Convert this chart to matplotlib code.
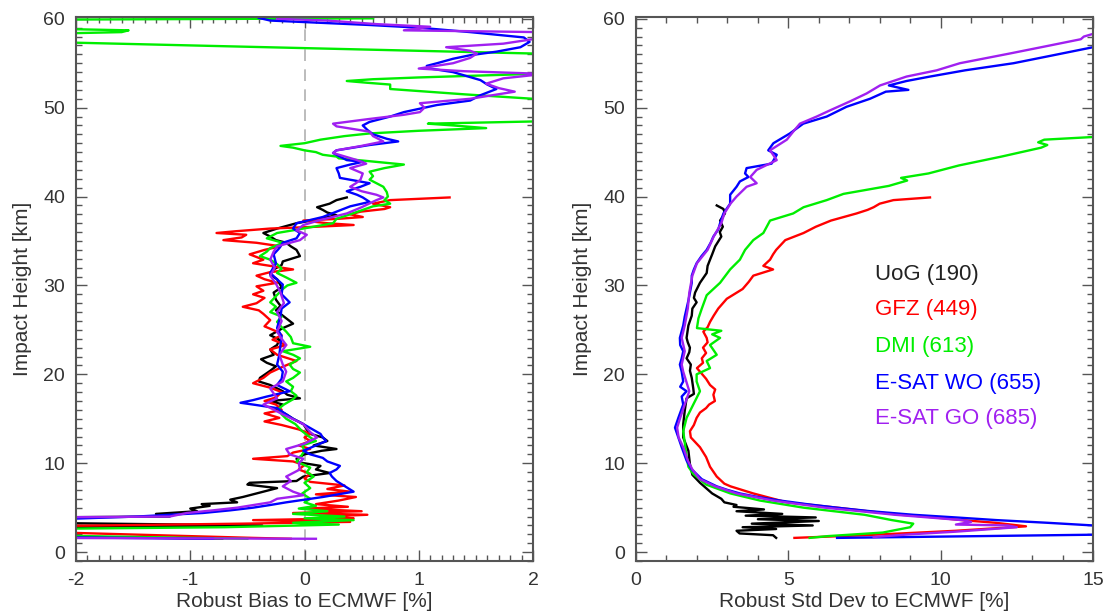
import matplotlib
matplotlib.use("Agg")
import matplotlib.pyplot as plt
from matplotlib.ticker import MultipleLocator

# ---------------- data: left panel (robust bias, %) ----------------
bias_uog_h = [1.5, 1.8, 2.8, 3.0, 3.3, 3.9, 4.0, 4.3, 4.6, 4.9, 5.2, 5.4, 5.6, 5.9, 6.2, 6.6, 7.0, 7.2, 7.6, 7.8,
              8.0, 8.5, 8.9, 9.3, 9.7, 10.1, 10.5, 11.0, 11.4, 11.6, 12.0, 12.5, 12.9, 13.3, 13.8, 14.4, 15.0, 15.5,
              16.1, 16.6, 17.0, 17.3, 17.7, 18.1, 18.8, 19.2, 19.6, 20.4, 20.9, 21.3, 21.7, 22.2, 22.8, 23.3, 23.9,
              24.4, 25.2, 25.7, 26.2, 26.6, 27.2, 27.7, 28.4, 29.2, 29.8, 30.7, 31.2, 31.8, 32.3, 32.7, 33.3, 34.0,
              34.4, 34.8, 35.1, 35.5, 35.9, 36.4, 37.0, 37.5, 37.9, 38.2, 38.5, 38.8, 39.2, 39.6, 39.9]
bias_uog_v = [-0.72, -2.4, -2.4, -0.37, -2.4, -2.4, -1.18, -1.3, -0.94, -1.0, -0.83, -0.9, -0.59, -0.65, -0.54,
              -0.42, -0.3, -0.24, -0.5, -0.48, -0.07, -0.01, 0.22, 0.1, 0.14, -0.05, -0.07, 0.0, 0.15, 0.28, 0.08,
              0.2, 0.16, 0.05, 0.02, -0.01, -0.1, -0.16, -0.25, -0.19, -0.3, -0.04, -0.15, -0.19, -0.3, -0.4, -0.39,
              -0.3, -0.25, -0.33, -0.38, -0.27, -0.3, -0.24, -0.22, -0.3, -0.19, -0.1, -0.15, -0.19, -0.25, -0.21,
              -0.25, -0.27, -0.2, -0.24, -0.3, -0.27, -0.2, -0.19, -0.04, -0.07, -0.12, -0.16, -0.25, -0.3, -0.36,
              -0.24, -0.07, 0.14, 0.28, 0.2, 0.16, 0.11, 0.22, 0.28, 0.37]

bias_gfz_h = [1.5, 1.6, 2.3, 2.9, 3.2, 3.4, 3.6, 3.8, 4.0, 4.2, 4.4, 4.6, 4.9, 5.1, 5.4, 5.8, 6.2, 6.5, 6.8, 7.1,
              7.5, 7.9, 8.3, 8.8, 9.3, 9.8, 10.2, 10.5, 10.8, 11.2, 11.6, 12.0, 12.5, 12.9, 13.3, 13.8, 14.3, 14.7,
              15.1, 15.6, 16.0, 16.6, 17.0, 17.4, 18.0, 18.5, 19.0, 19.6, 20.2, 20.8, 21.5, 22.2, 22.8, 23.3, 23.9,
              24.4, 24.8, 25.4, 26.1, 26.8, 27.2, 27.6, 28.0, 28.6, 29.0, 29.4, 29.9, 30.3, 30.7, 31.1, 31.5, 31.8,
              32.2, 32.5, 32.9, 33.5, 34.0, 34.4, 34.8, 35.1, 35.4, 35.7, 35.9, 36.1, 36.4, 36.6, 36.8, 37.0, 37.3,
              37.5, 37.7, 38.0, 38.3, 38.6, 38.8, 39.2, 39.6, 39.9]
bias_gfz_v = [-0.12, -0.45, -2.4, -2.4, -0.55, 0.4, -0.45, 0.43, 0.15, 0.55, -0.1, 0.5, 0.0, 0.38, 0.1, 0.3, 0.45,
              0.1, 0.4, 0.2, 0.35, 0.05, 0.0, 0.05, -0.05, 0.0, -0.1, -0.45, -0.15, -0.1, 0.05, -0.05, 0.05, 0.0,
              0.05, -0.05, -0.2, -0.35, -0.22, -0.35, -0.2, -0.25, -0.35, -0.25, -0.2, -0.3, -0.45, -0.36, -0.3,
              -0.2, -0.07, -0.24, -0.3, -0.16, -0.28, -0.2, -0.24, -0.35, -0.3, -0.36, -0.4, -0.54, -0.42, -0.35,
              -0.45, -0.36, -0.42, -0.24, -0.35, -0.42, -0.3, -0.1, -0.3, -0.45, -0.36, -0.48, -0.35, -0.21, -0.42,
              -0.71, -0.55, -0.51, -0.77, -0.6, -0.3, 0.1, 0.43, 0.2, -0.01, 0.3, 0.51, 0.4, 0.49, 0.7, 0.75, 0.6,
              0.75, 1.27]

bias_dmi_h = [1.5, 1.9, 2.6, 2.8, 3.1, 3.3, 3.6, 3.8, 4.0, 4.3, 4.6, 4.9, 5.2, 5.6, 6.0, 6.6, 7.2, 7.8, 8.5, 9.0,
              9.5, 10.2, 10.8, 11.4, 12.0, 12.5, 12.9, 13.6, 14.4, 15.0, 15.5, 16.2, 16.6, 17.2, 17.6, 18.1, 18.6,
              19.2, 19.6, 20.2, 20.6, 21.1, 21.8, 22.2, 22.6, 23.1, 23.5, 24.2, 24.8, 25.3, 25.9, 26.5, 27.0, 27.6,
              28.1, 28.8, 29.6, 30.0, 30.3, 30.9, 31.4, 31.9, 32.4, 32.9, 33.3, 33.8, 34.2, 34.8, 35.3, 35.9, 36.4,
              37.0, 37.5, 38.0, 38.5, 38.9, 39.2, 39.6, 40.0, 40.5, 41.1, 41.5, 41.9, 42.3, 42.8, 43.2, 43.6, 44.0,
              44.3, 44.5, 44.7, 45.0, 45.2, 45.5, 45.7, 46.0, 46.4, 46.8, 47.1, 47.4, 47.7, 48.0, 48.2, 48.5, 50.9,
              51.0, 51.5, 52.1, 52.6, 52.8, 53.0, 53.2, 53.4, 53.8, 54.0, 56.0, 57.4, 58.3, 58.5, 58.7, 58.9, 59.9,
              60.05]
bias_dmi_v = [-0.5, -2.4, -2.4, -0.7, 0.3, -0.1, 0.43, 0.0, 0.35, -0.1, 0.2, -0.05, 0.1, 0.0, 0.05, -0.02, 0.05,
              0.0, 0.08, 0.02, 0.05, -0.07, -0.03, 0.0, -0.02, 0.1, 0.05, -0.02, -0.08, -0.16, -0.2, -0.22, -0.18,
              -0.1, -0.07, -0.12, -0.1, -0.16, -0.1, -0.04, -0.1, -0.13, -0.04, -0.1, -0.19, 0.05, -0.1, -0.12,
              -0.16, -0.2, -0.24, -0.2, -0.3, -0.25, -0.3, -0.25, -0.19, -0.15, -0.07, -0.16, -0.24, -0.2, -0.24,
              -0.3, -0.39, -0.33, -0.3, -0.19, -0.33, -0.24, -0.01, 0.25, 0.28, 0.4, 0.51, 0.6, 0.75, 0.7, 0.73,
              0.72, 0.69, 0.63, 0.57, 0.6, 0.57, 0.7, 0.87, 0.55, 0.3, 0.28, 0.16, 0.1, 0.0, -0.1, -0.21, 0.0, 0.14,
              0.35, 0.57, 1.0, 1.59, 1.3, 1.08, 2.2, 2.2, 2.0, 1.4, 0.75, 0.75, 0.55, 0.37, 0.6, 1.0, 2.0, 2.3, 2.3,
              -2.3, -2.3, -1.6, -1.54, -2.3, -2.3, 0.6]

bias_wo_h = [1.5, 1.7, 3.6, 4.0, 4.4, 4.7, 5.0, 5.3, 5.6, 6.2, 6.8, 7.2, 7.6, 8.0, 8.5, 8.9, 9.3, 9.7, 10.2, 10.6,
             11.0, 11.4, 12.0, 12.5, 12.9, 13.3, 14.4, 15.0, 15.5, 16.2, 16.6, 16.8, 17.1, 17.5, 18.1, 18.8, 19.5,
             20.3, 21.1, 22.2, 23.3, 24.3, 25.2, 26.6, 27.4, 28.1, 29.0, 30.1, 30.8, 31.4, 32.5, 33.5, 34.2, 34.8,
             35.3, 35.9, 36.4, 37.0, 37.7, 38.3, 38.9, 39.4, 39.9, 40.2, 40.6, 41.1, 41.5, 42.1, 42.6, 43.2, 43.6,
             43.9, 44.1, 44.9, 45.2, 45.8, 46.2, 46.5, 47.0, 47.5, 48.0, 48.4, 49.0, 49.5, 50.3, 50.8, 51.4, 52.1,
             52.6, 53.1, 54.0, 54.4, 54.7, 55.0, 55.5, 55.9, 56.3, 56.8, 57.4, 57.9, 58.5, 59.0, 59.3, 59.8, 60.1]
bias_wo_v = [-0.8, -2.4, -2.4, -1.47, -0.89, -0.65, -0.45, -0.3, -0.16, 0.16, 0.43, 0.38, 0.33, 0.28, 0.24, 0.22,
             0.28, 0.31, 0.2, 0.16, 0.05, -0.01, 0.1, 0.19, 0.16, 0.14, -0.01, -0.1, -0.16, -0.24, -0.45, -0.56,
             -0.45, -0.33, -0.13, -0.24, -0.2, -0.19, -0.24, -0.22, -0.21, -0.2, -0.24, -0.21, -0.2, -0.13, -0.2,
             -0.19, -0.25, -0.3, -0.25, -0.27, -0.22, -0.19, -0.07, -0.04, -0.1, -0.07, 0.16, 0.28, 0.4, 0.57, 0.51,
             0.46, 0.37, 0.49, 0.57, 0.31, 0.3, 0.28, 0.4, 0.51, 0.37, 0.25, 0.28, 0.57, 0.82, 0.72, 0.6, 0.55,
             0.51, 0.57, 0.75, 0.87, 1.16, 1.45, 1.54, 1.68, 1.6, 1.54, 1.3, 1.1, 1.07, 1.16, 1.3, 1.45, 1.68, 1.89,
             1.97, 1.92, 1.45, 1.0, 0.57, -0.3, -0.4]

bias_go_h = [1.5, 1.6, 3.9, 4.0, 4.4, 4.7, 5.0, 5.6, 6.0, 6.4, 6.8, 7.4, 8.0, 8.5, 9.3, 10.0, 10.5, 11.0, 11.6,
             12.2, 12.9, 13.5, 14.4, 15.5, 16.1, 16.6, 17.3, 18.4, 19.2, 20.3, 21.1, 22.2, 23.3, 24.0, 24.8, 26.0,
             27.0, 28.0, 29.2, 30.2, 31.1, 32.0, 32.9, 33.8, 34.4, 35.1, 35.7, 36.2, 36.8, 37.4, 38.1, 38.8, 39.6,
             39.9, 40.2, 40.6, 41.1, 41.5, 41.9, 42.6, 43.2, 43.7, 44.1, 44.9, 45.2, 45.7, 46.2, 46.8, 47.3, 47.9,
             48.2, 48.7, 49.2, 49.5, 50.0, 50.5, 51.0, 51.8, 52.2, 52.7, 53.3, 53.8, 54.1, 54.4, 55.0, 55.6, 56.1,
             56.4, 56.8, 57.2, 57.9, 58.5, 58.7, 59.1, 59.4, 59.8, 60.0]
bias_go_v = [0.1, -2.4, -2.4, -1.18, -1.03, -0.8, -0.59, -0.3, -0.24, -0.01, -0.1, -0.19, -0.12, -0.16, -0.04,
             -0.05, -0.01, -0.13, -0.16, 0.0, 0.11, 0.05, -0.01, -0.19, -0.28, -0.36, -0.24, -0.3, -0.19, -0.16,
             -0.19, -0.22, -0.16, -0.2, -0.24, -0.2, -0.24, -0.18, -0.21, -0.25, -0.3, -0.26, -0.3, -0.27, -0.24,
             -0.04, 0.02, -0.07, -0.01, 0.15, 0.37, 0.5, 0.63, 0.69, 0.63, 0.5, 0.4, 0.45, 0.49, 0.51, 0.4, 0.54,
             0.46, 0.25, 0.28, 0.5, 0.69, 0.6, 0.57, 0.28, 0.25, 0.55, 0.87, 1.01, 1.05, 1.01, 1.45, 1.84, 1.7,
             1.59, 1.74, 2.1, 1.4, 1.0, 1.3, 1.45, 1.51, 1.45, 1.24, 1.74, 2.1, 2.05, 0.87, 1.1, 0.63, 0.2, -0.24]

# ---------------- data: right panel (robust std dev, %) ----------------
std_uog_h = [1.6, 1.9, 2.1, 2.4, 2.6, 2.8, 3.0, 3.2, 3.5, 3.7, 3.9, 4.1, 4.3, 4.6, 4.8, 5.1, 5.3, 5.6, 6.0, 6.6,
             7.2, 7.8, 8.7, 9.9, 11.4, 12.9, 14.4, 15.9, 17.3, 17.8, 18.4, 19.6, 20.4, 21.1, 21.8, 22.5, 23.0, 23.6,
             24.1, 25.5, 26.6, 27.4, 28.1, 28.6, 29.2, 30.3, 31.4, 32.2, 32.9, 33.5, 34.4, 35.5, 36.0, 36.6, 37.3,
             38.1, 38.6, 39.0]
std_uog_v = [4.6, 4.5, 3.4, 3.3, 4.6, 3.5, 5.8, 3.8, 6.0, 4.0, 5.9, 3.6, 4.8, 3.3, 4.2, 3.2, 3.3, 2.9, 2.8, 2.5,
             2.3, 2.1, 1.85, 1.77, 1.72, 1.55, 1.55, 1.6, 1.66, 1.9, 1.88, 1.83, 1.77, 1.8, 1.66, 1.75, 1.77, 1.7,
             1.66, 1.72, 1.83, 1.85, 1.99, 1.9, 1.94, 2.1, 2.32, 2.35, 2.43, 2.5, 2.6, 2.8, 2.75, 2.85, 2.76, 2.92,
             2.87, 2.65]

std_gfz_h = [1.6, 1.9, 2.4, 2.9, 3.3, 3.6, 4.0, 4.2, 4.6, 5.0, 5.6, 6.6, 7.4, 7.7, 8.5, 9.6, 10.7, 11.8, 12.9,
             13.6, 14.3, 15.1, 15.7, 16.2, 16.6, 17.0, 17.7, 18.3, 18.8, 19.5, 20.3, 20.7, 21.3, 21.8, 22.4, 23.0,
             23.6, 24.1, 24.8, 25.3, 25.9, 26.6, 27.4, 28.5, 29.6, 30.4, 31.1, 31.8, 32.2, 32.9, 33.5, 34.0, 35.1,
             35.9, 36.6, 37.3, 38.1, 38.5, 38.8, 39.2, 39.6, 39.9]
std_gfz_v = [5.2, 7.5, 10.5, 12.8, 11.8, 10.7, 9.5, 8.7, 7.6, 6.6, 4.95, 3.85, 3.1, 2.9, 2.65, 2.43, 2.3, 2.1, 1.8,
             1.77, 1.9, 1.99, 2.1, 2.3, 2.4, 2.59, 2.54, 2.6, 2.43, 2.3, 2.1, 2.0, 2.2, 2.16, 2.3, 2.2, 2.35, 2.32,
             2.21, 2.35, 2.43, 2.55, 2.7, 2.98, 3.5, 3.7, 3.85, 4.5, 4.18, 4.4, 4.5, 4.6, 4.9, 5.5, 5.9, 6.4, 7.24,
             7.6, 7.8, 8.0, 8.45, 9.65]

std_dmi_h = [1.6, 1.8, 2.2, 2.8, 3.2, 3.6, 4.2, 5.0, 5.8, 6.6, 7.6, 8.8, 9.6, 10.7, 12.1, 13.6, 15.1, 16.6, 18.1,
             19.2, 20.0, 20.7, 21.5, 22.2, 23.3, 24.1, 24.5, 24.9, 25.2, 26.3, 27.4, 28.9, 30.3, 31.8, 32.9, 34.0,
             35.1, 35.9, 36.6, 37.3, 38.1, 38.8, 39.6, 40.3, 41.2, 41.8, 42.1, 42.6, 43.5, 44.5, 45.5, 45.8, 46.1,
             46.4, 46.7, 46.8]
std_dmi_v = [5.7, 6.3, 8.1, 9.0, 9.1, 8.4, 7.5, 5.5, 4.07, 3.1, 2.3, 1.88, 1.72, 1.66, 1.61, 1.55, 1.66, 1.88, 2.1,
             1.99, 1.99, 2.43, 2.32, 2.65, 2.43, 2.76, 2.5, 2.8, 2.0, 2.05, 2.16, 2.32, 2.76, 3.09, 3.41, 3.58,
             3.85, 4.18, 4.29, 4.4, 5.16, 5.5, 6.26, 6.81, 8.3, 8.9, 8.7, 9.6, 10.6, 12.0, 13.3, 13.5, 13.2, 13.4,
             15.0, 15.5]

std_wo_h = [1.6, 2.0, 2.9, 3.0, 3.3, 3.6, 3.9, 4.2, 4.6, 5.0, 5.4, 5.8, 6.2, 6.6, 7.0, 7.4, 8.2, 9.3, 10.3, 11.8,
            12.9, 14.0, 15.1, 16.6, 17.5, 18.1, 18.6, 19.2, 20.3, 21.1, 21.8, 22.6, 23.3, 24.1, 25.5, 26.5, 27.4,
            28.3, 29.2, 30.3, 31.1, 31.8, 32.5, 33.3, 34.0, 34.8, 35.5, 36.3, 37.0, 38.1, 39.2, 40.2, 41.1, 41.7,
            42.2, 42.6, 43.2, 43.7, 44.7, 45.2, 46.0, 47.1, 48.2, 49.0, 50.1, 51.0, 51.8, 52.0, 52.5, 53.0, 53.5,
            54.2, 55.0, 55.9, 56.8, 57.1]
std_wo_v = [6.6, 16.0, 16.0, 15.0, 13.5, 11.84, 10.5, 9.1, 7.7, 6.59, 5.6, 4.73, 4.0, 3.41, 3.0, 2.65, 2.16, 1.83,
            1.66, 1.5, 1.39, 1.28, 1.39, 1.55, 1.5, 1.66, 1.45, 1.55, 1.5, 1.44, 1.5, 1.55, 1.45, 1.44, 1.55, 1.6,
            1.66, 1.72, 1.77, 1.83, 1.83, 1.9, 1.99, 2.15, 2.32, 2.45, 2.54, 2.7, 2.76, 2.87, 3.09, 3.09, 3.3, 3.41,
            3.69, 3.58, 3.63, 4.45, 4.62, 4.34, 4.51, 5.05, 5.49, 6.26, 6.91, 7.68, 8.2, 8.94, 8.3, 8.88, 9.65,
            10.8, 12.39, 13.7, 15.0, 15.6]

std_go_h = [1.7, 2.0, 2.3, 2.8, 3.0, 3.1, 3.4, 3.6, 4.2, 5.0, 5.8, 6.6, 7.4, 8.2, 9.3, 10.3, 11.8, 12.9, 14.0,
            15.1, 16.6, 18.1, 19.2, 20.3, 21.1, 22.6, 24.1, 25.5, 27.4, 29.2, 31.1, 32.5, 34.0, 35.5, 37.0, 38.1,
            39.2, 40.0, 41.1, 41.5, 42.2, 43.0, 44.1, 45.2, 46.4, 47.3, 48.2, 49.0, 49.7, 50.7, 51.6, 52.5, 53.5,
            54.2, 55.0, 56.1, 57.0, 57.7, 58.0, 58.3, 58.6]
std_go_v = [7.8, 9.0, 10.5, 12.5, 12.2, 10.5, 11.0, 10.7, 8.5, 6.2, 4.5, 3.3, 2.6, 2.1, 1.85, 1.7, 1.55, 1.4, 1.35,
            1.45, 1.6, 1.75, 1.65, 1.55, 1.5, 1.6, 1.5, 1.6, 1.7, 1.75, 1.85, 2.0, 2.35, 2.55, 2.8, 2.9, 3.1, 3.3,
            3.63, 3.96, 3.75, 3.96, 4.62, 4.4, 4.95, 5.16, 5.38, 5.93, 6.37, 7.02, 7.57, 8.01, 8.88, 9.87, 10.63,
            12.28, 13.59, 14.6, 14.7, 15.0, 15.5]

series_names = ["UoG (190)", "GFZ (449)", "DMI (613)", "E-SAT WO (655)", "E-SAT GO (685)"]
series_colors = ["#000000", "#ff0000", "#00ee00", "#0000ff", "#a020f0"]

bias_data = [(bias_uog_v, bias_uog_h), (bias_gfz_v, bias_gfz_h), (bias_dmi_v, bias_dmi_h),
             (bias_wo_v, bias_wo_h), (bias_go_v, bias_go_h)]
std_data = [(std_uog_v, std_uog_h), (std_gfz_v, std_gfz_h), (std_dmi_v, std_dmi_h),
            (std_wo_v, std_wo_h), (std_go_v, std_go_h)]

# ---------------- figure ----------------
plt.rcParams['font.family'] = ['Liberation Sans', 'DejaVu Sans']
plt.rcParams['axes.unicode_minus'] = False
W, H = 1108, 616
fig = plt.figure(figsize=(W / 100, H / 100), dpi=100)
ax1 = fig.add_axes([76 / W, 1 - 561 / H, 457 / W, 544 / H])
ax2 = fig.add_axes([636 / W, 1 - 561 / H, 457 / W, 544 / H])

spine_col = "#555555"
text_col = "#333333"

for ax in (ax1, ax2):
    ax.set_ylim(-1.0, 60.2)
    ax.yaxis.set_major_locator(MultipleLocator(10))
    ax.yaxis.set_minor_locator(MultipleLocator(1))
    ax.tick_params(which="both", direction="in", top=True, right=True, colors=spine_col,
                   labelcolor=text_col, labelsize=14, width=1.0)
    ax.tick_params(which="major", length=8, pad=8)
    ax.tick_params(which="minor", length=4)
    for s in ax.spines.values():
        s.set_color(spine_col)
        s.set_linewidth(1.5)
    ax.set_ylabel("Impact Height [km]", fontsize=15, color=text_col, labelpad=8)

# left panel
ax1.set_xlim(-2, 2)
ax1.xaxis.set_major_locator(MultipleLocator(1))
ax1.xaxis.set_minor_locator(MultipleLocator(0.1))
ax1.axvline(0, color="#b0b0b0", lw=1.2, ls=(0, (7, 5)), zorder=1)
for (v, h), c in zip(bias_data, series_colors):
    ax1.plot(v, h, color=c, lw=1.7, zorder=2)
ax1.set_xlabel("Robust Bias to ECMWF [%]", fontsize=15, color=text_col, labelpad=2)

# right panel
ax2.set_xlim(0, 15)
ax2.xaxis.set_major_locator(MultipleLocator(5))
ax2.xaxis.set_minor_locator(MultipleLocator(1))
for (v, h), c in zip(std_data, series_colors):
    ax2.plot(v, h, color=c, lw=1.7, zorder=2)
ax2.set_xlabel("Robust Std Dev to ECMWF [%]", fontsize=15, color=text_col, labelpad=2)

leg_y = [0.527, 0.462, 0.395, 0.327, 0.262]
for name, c, y in zip(series_names, series_colors, leg_y):
    ax2.text(0.523, y, name, color=c if c != "#000000" else "#222222", fontsize=16,
             transform=ax2.transAxes, va="center", ha="left")

fig.savefig("out.png", dpi=100)
